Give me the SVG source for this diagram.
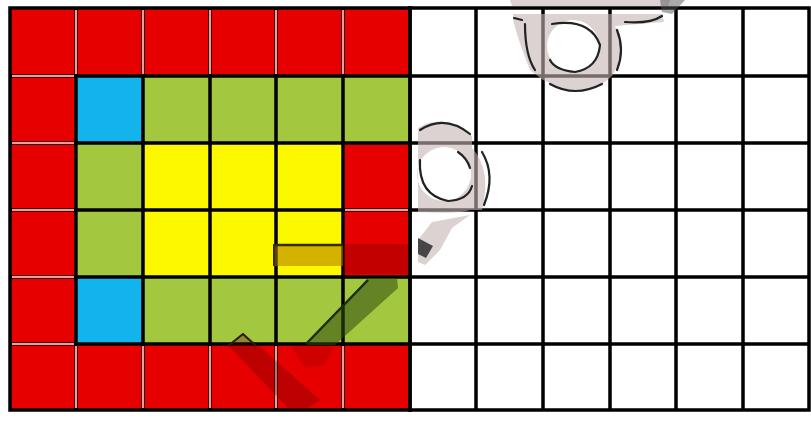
<svg xmlns="http://www.w3.org/2000/svg" width="811" height="421" viewBox="0 0 811 421">
  <style>
    .r { fill: #e60000; }
    .b { fill: #12b4ee; }
    .g { fill: #a3c83f; stroke: #d9efa6; stroke-width: 2; }
    .y { fill: #fcf800; }
    .grid { stroke: #000; stroke-width: 3.5; fill: none; }
    .pink { stroke: #f29a9a; stroke-width: 2; fill: none; }
    .ghost { fill: #c4b4b4; fill-opacity: 0.6; stroke: none; }
    .edge { fill: none; stroke: #222; stroke-width: 2.2; stroke-linecap: round; }
  </style>
  <rect x="0" y="0" width="811" height="421" fill="#ffffff"/>
  <g id="cells">
    <rect class="r" x="10" y="8" width="400" height="68"/>
    <rect class="r" x="10" y="344" width="400" height="66"/>
    <rect class="r" x="10" y="76" width="66" height="268"/>
    <rect class="r" x="343" y="143" width="67" height="134"/>
    <rect class="b" x="76" y="76" width="67" height="67"/>
    <rect class="b" x="76" y="277" width="67" height="67"/>
    <rect class="g" x="143" y="76" width="67" height="67"/>
    <rect class="g" x="210" y="76" width="66" height="67"/>
    <rect class="g" x="276" y="76" width="67" height="67"/>
    <rect class="g" x="343" y="76" width="66" height="67"/>
    <rect class="g" x="77" y="143" width="66" height="134"/>
    <rect class="g" x="143" y="277" width="67" height="67"/>
    <rect class="g" x="210" y="277" width="66" height="67"/>
    <rect class="g" x="276" y="277" width="67" height="67"/>
    <rect class="g" x="343" y="277" width="66" height="67"/>
    <rect class="y" x="143" y="143" width="200" height="134"/>
  </g>
  <g id="grid">
    <rect class="grid" x="10" y="8" width="799" height="402" stroke-width="4"/>
    <path class="grid" d="M76 8V410 M143 8V410 M210 8V410 M276 8V410 M343 8V410 M410 8V410 M476 8V410 M543 8V410 M610 8V410 M676 8V410 M743 8V410"/>
    <path class="grid" d="M10 76H809 M10 143H809 M10 210H809 M10 277H809 M10 344H809"/>
    <path class="grid" d="M410 6V412" stroke-width="4.5"/>
  </g>
  <g id="pink-lines">
    <path class="pink" d="M76 10V74 M143 10V74 M210 10V74 M276 10V74 M343 10V74"/>
    <path class="pink" d="M76 346V408 M143 346V408 M210 346V408 M276 346V408 M343 346V408"/>
    <path class="pink" d="M12 76H74 M12 143H74 M12 210H74 M12 277H74 M12 344H74"/>
    <path class="pink" d="M345 210H408"/>
  </g>
  <g id="shading">
    <rect x="274" y="244" width="69" height="22" fill="#b07a00" fill-opacity="0.55"/>
    <line x1="274" y1="245" x2="343" y2="245" stroke="#3a2a00" stroke-width="2.5"/>
    <line x1="274" y1="244" x2="274" y2="266" stroke="#3a2a00" stroke-width="2"/>
    <rect x="343" y="244" width="66" height="30" fill="#700000" fill-opacity="0.3"/>
    <polygon points="368,278 397,278 398,288 335,345 306,345" fill="#2f4a10" fill-opacity="0.55"/>
    <line x1="368" y1="280" x2="306" y2="344" stroke="#1c2a08" stroke-width="2.5"/>
    <polygon points="228,345 243,333 258,345 320,400 305,410 290,410" fill="#600000" fill-opacity="0.3"/>
    <polygon points="290,345 335,345 325,365 305,368" fill="#600000" fill-opacity="0.15"/>
    <polyline points="228,346 243,334 256,346" fill="none" stroke="#2a1a10" stroke-width="2"/>
  </g>
  <g id="ghost-ring-middle">
    <path class="ghost" fill-rule="evenodd" d="M418 128 Q445 112 472 136 L472 148 Q492 170 482 210 L470 210 Q460 214 418 212 Z M444 147 A27 27 0 1 0 444.1 147 Z"/>
    <path class="edge" d="M420 130 Q445 114 470 134"/>
    <path class="edge" d="M482 152 Q496 175 484 205" stroke-width="2"/>
    <path class="edge" d="M420 160 Q418 195 448 201 Q468 200 472 186"/>
    <path class="edge" d="M458 152 Q467 158 470 168" stroke-width="1.5"/>
    <path class="ghost" d="M418 240 L432 222 L470 215 L452 228 L440 250 L425 265 L418 262 Z"/>
    <path d="M418 238 L433 246 L426 258 L418 254 Z" fill="#222" fill-opacity="0.8"/>
  </g>
  <g id="ghost-ring-top">
    <path class="ghost" fill-rule="evenodd" d="M513 14 L662 14 L664 22 L615 26 Q628 50 612 76 L605 82 Q575 100 548 82 L543 80 L530 70 Q518 40 513 20 Z M573 20 A26 26 0 1 0 573.1 20 Z"/>
    <path class="edge" d="M514 18 L522 20"/>
    <path class="edge" d="M525 24 Q525 55 535 70" stroke-width="2"/>
    <path class="edge" d="M552 24 Q590 18 600 45 Q598 68 575 72 Q555 70 550 60"/>
    <path class="edge" d="M617 30 Q625 50 617 70" stroke-width="2"/>
    <path class="edge" d="M550 84 Q575 98 602 84" stroke-width="2"/>
    <path class="edge" d="M625 22 Q650 24 662 16" stroke-width="2"/>
    <path class="ghost" d="M510 0 L670 0 L668 6 L512 6 Z" fill-opacity="0.4"/>
    <path d="M660 0 L685 0 L672 14 L662 12 Z" fill="#555" fill-opacity="0.5"/>
  </g>
</svg>
